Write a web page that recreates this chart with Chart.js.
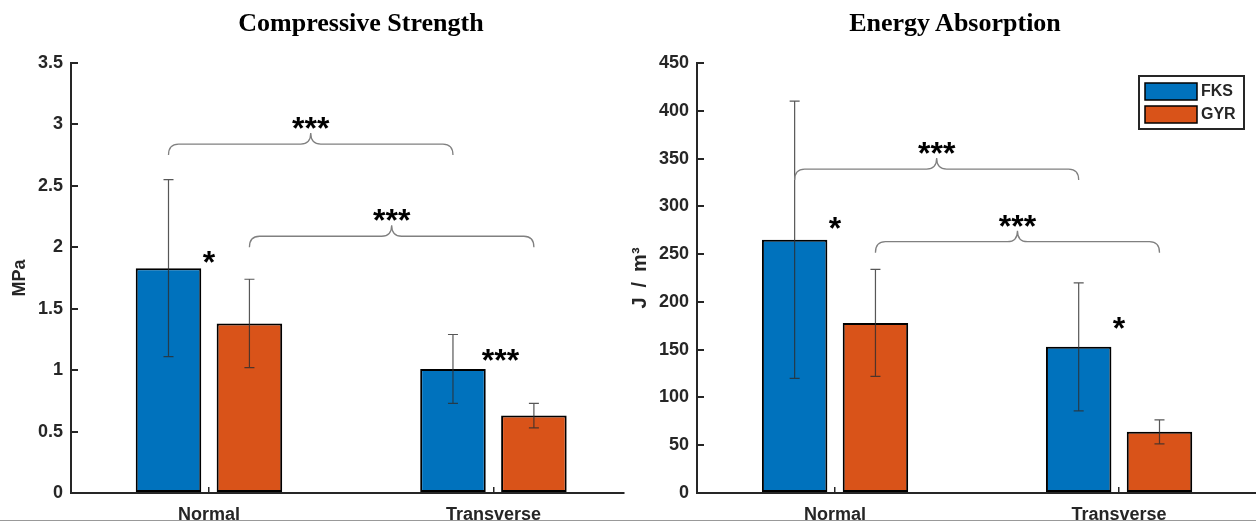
<!DOCTYPE html>
<html lang="en">
<head>
    <meta charset="UTF-8">
    <title>Compressive Strength and Energy Absorption</title>
    <style>
        body { margin: 0; background: #fff; }
        .wrap { position: relative; width: 1256px; height: 524px; overflow: hidden; }
        .box { position: absolute; top: 0; width: 630px; height: 524px; }
        .box canvas { display: block; }
        .title {
            position: absolute; top: 10px; transform: translateX(-50%);
            font: bold 26px "Liberation Serif", "Times New Roman", serif;
            line-height: 26px; white-space: nowrap; color: #000;
        }
        .edge { position: absolute; left: 0; top: 520px; width: 1256px; height: 4px; background: #fff; border-top: 1px solid #999; }
    </style>
    <script src="https://cdn.jsdelivr.net/npm/chart.js"></script>
</head>
<body>
<div class="wrap">
    <div class="box" style="left:0"><canvas id="strengthChart" width="630" height="524"></canvas></div>
    <div class="box" style="left:626px"><canvas id="energyChart" width="630" height="524"></canvas></div>
    <div class="title" style="left:361px">Compressive Strength</div>
    <div class="title" style="left:955px">Energy Absorption</div>
    <div class="edge"></div>
</div>
<script>
    const categories = ['Normal', 'Transverse'];
    const seriesNames = ['FKS', 'GYR'];
    const seriesColors = ['#0072BD', '#D95319'];

    // compressive strength (MPa), mean and SD
    const strengthFKS = [1.83, 1.01];
    const strengthFKSsd = [0.72, 0.28];
    const strengthGYR = [1.38, 0.63];
    const strengthGYRsd = [0.36, 0.10];

    // energy absorption (J/m3), mean and SD
    const energyFKS = [265, 153];
    const energyFKSsd = [145, 67];
    const energyGYR = [178, 64];
    const energyGYRsd = [56, 12.5];

    // braces: [dataset, category, dataset, category, level]
    const strengthBraces = [[0, 0, 0, 1, 2.84], [1, 0, 1, 1, 2.09]];
    const energyBraces = [[0, 0, 0, 1, 339], [1, 0, 1, 1, 263]];
    const braceLabels = ['***', '***'];
    // single stars: [text, x position, level]
    const strengthStars = [['*', 1.0, 1.94], ['***', 2.025, 1.14]];
    const energyStars = [['*', 1.0, 285], ['*', 2.0, 180]];

    const axisColor = '#262626';
    const sans = '"Liberation Sans", Arial, sans-serif';

    function starText(ctx, text, x, cy) {
        const size = 32;
        ctx.font = 'bold ' + size + 'px ' + sans;
        ctx.fillStyle = '#000';
        ctx.textAlign = 'center';
        ctx.textBaseline = 'alphabetic';
        ctx.fillText(text, x, cy + 0.57 * size);
    }

    function drawBrace(ctx, x1, x2, y) {
        const r = 10, h = 11, xm = (x1 + x2) / 2;
        ctx.beginPath();
        ctx.moveTo(x1, y + h);
        ctx.quadraticCurveTo(x1, y, x1 + r, y);
        ctx.lineTo(xm - r, y);
        ctx.quadraticCurveTo(xm, y, xm, y - h);
        ctx.quadraticCurveTo(xm, y, xm + r, y);
        ctx.lineTo(x2 - r, y);
        ctx.quadraticCurveTo(x2, y, x2, y + h);
        ctx.stroke();
    }

    const markings = {
        id: 'markings',
        afterDatasetsDraw(chart, args, opts) {
            const ctx = chart.ctx;
            const xs = chart.scales.x, ys = chart.scales.y;
            ctx.save();
            // error bars
            ctx.strokeStyle = 'rgba(45,45,45,0.8)';
            ctx.lineWidth = 1.2;
            chart.data.datasets.forEach((ds, d) => {
                chart.getDatasetMeta(d).data.forEach((bar, i) => {
                    const v = ds.data[i].y, e = ds.errors[i];
                    const t = ys.getPixelForValue(v + e), b = ys.getPixelForValue(v - e);
                    ctx.beginPath();
                    ctx.moveTo(bar.x, t); ctx.lineTo(bar.x, b);
                    ctx.moveTo(bar.x - 5, t); ctx.lineTo(bar.x + 5, t);
                    ctx.moveTo(bar.x - 5, b); ctx.lineTo(bar.x + 5, b);
                    ctx.stroke();
                });
            });
            // braces
            ctx.strokeStyle = '#808080';
            ctx.lineWidth = 1.3;
            opts.braces.forEach((br, k) => {
                const x1 = chart.getDatasetMeta(br[0]).data[br[1]].x;
                const x2 = chart.getDatasetMeta(br[2]).data[br[3]].x;
                const y = ys.getPixelForValue(br[4]);
                drawBrace(ctx, x1, x2, y);
                starText(ctx, braceLabels[k], (x1 + x2) / 2, y - 23);
            });
            opts.stars.forEach(s => {
                starText(ctx, s[0], xs.getPixelForValue(s[1]), ys.getPixelForValue(s[2]));
            });
            ctx.restore();
        },
        afterDraw(chart, args, opts) {
            if (!opts.legend) return;
            const ctx = chart.ctx, ca = chart.chartArea;
            const bx = ca.right - 117, by = ca.top + 13;
            ctx.save();
            ctx.fillStyle = '#fff';
            ctx.fillRect(bx, by, 105, 53);
            ctx.strokeStyle = axisColor;
            ctx.lineWidth = 2;
            ctx.strokeRect(bx, by, 105, 53);
            chart.data.datasets.forEach((ds, i) => {
                const py = by + 7 + i * 23;
                ctx.fillStyle = ds.backgroundColor;
                ctx.fillRect(bx + 6, py, 52, 17);
                ctx.strokeStyle = '#000';
                ctx.lineWidth = 1.5;
                ctx.strokeRect(bx + 6, py, 52, 17);
                ctx.fillStyle = axisColor;
                ctx.font = 'bold 16px ' + sans;
                ctx.textAlign = 'left';
                ctx.textBaseline = 'middle';
                ctx.fillText(ds.label, bx + 62, py + 9);
            });
            ctx.restore();
        }
    };

    function makeDataset(i, values, errors) {
        return {
            label: seriesNames[i],
            data: values.map((v, k) => ({ x: k + 1, y: v })),
            errors: errors,
            backgroundColor: seriesColors[i],
            borderColor: '#000',
            borderWidth: 2,
            borderSkipped: false,
            categoryPercentage: 0.569,
            barPercentage: 0.81
        };
    }

    function makeChart(id, datasets, yMax, yStep, yTitle, titleSize, titlePad, xMin, xMax, padRight, braces, stars, legend) {
        return new Chart(document.getElementById(id), {
            type: 'bar',
            data: { datasets: datasets },
            plugins: [markings],
            options: {
                responsive: false,
                animation: false,
                layout: { padding: { top: 63, right: padRight, left: 0, bottom: 0 } },
                plugins: {
                    legend: { display: false },
                    tooltip: { enabled: false },
                    markings: { braces: braces, stars: stars, legend: legend }
                },
                scales: {
                    x: {
                        type: 'linear',
                        min: xMin,
                        max: xMax,
                        offset: false,
                        afterFit: s => { s.height = 31; },
                        afterBuildTicks: s => { s.ticks = categories.map((c, i) => ({ value: i + 1 })); },
                        grid: { drawOnChartArea: false, offset: false, color: axisColor, lineWidth: 1.5, tickLength: -6 },
                        border: { color: axisColor, width: 2 },
                        ticks: {
                            padding: 17,
                            color: axisColor,
                            font: { family: sans, size: 18, weight: 'bold' },
                            callback: v => categories[v - 1]
                        }
                    },
                    y: {
                        min: 0,
                        max: yMax,
                        afterFit: s => { s.width = 71; },
                        grid: { drawOnChartArea: false, color: axisColor, lineWidth: 2, tickLength: -7 },
                        border: { color: axisColor, width: 2 },
                        ticks: {
                            stepSize: yStep,
                            padding: 15,
                            color: axisColor,
                            font: { family: sans, size: 18, weight: 'bold' },
                            callback: v => String(Math.round(v * 10) / 10)
                        },
                        title: {
                            display: true,
                            text: yTitle,
                            color: axisColor,
                            padding: { top: titlePad, bottom: 0 },
                            font: { family: sans, size: titleSize, weight: 'bold' }
                        }
                    }
                }
            }
        });
    }

    makeChart('strengthChart',
        [makeDataset(0, strengthFKS, strengthFKSsd), makeDataset(1, strengthGYR, strengthGYRsd)],
        3.5, 0.5, 'MPa', 18, 9, 0.515, 2.459, 6, strengthBraces, strengthStars, false);

    makeChart('energyChart',
        [makeDataset(0, energyFKS, energyFKSsd), makeDataset(1, energyGYR, energyGYRsd)],
        450, 50, 'J\u2002/\u2002m\u00B3', 20, 2, 0.514, 2.482, 0, energyBraces, energyStars, true);
</script>
</body>
</html>
